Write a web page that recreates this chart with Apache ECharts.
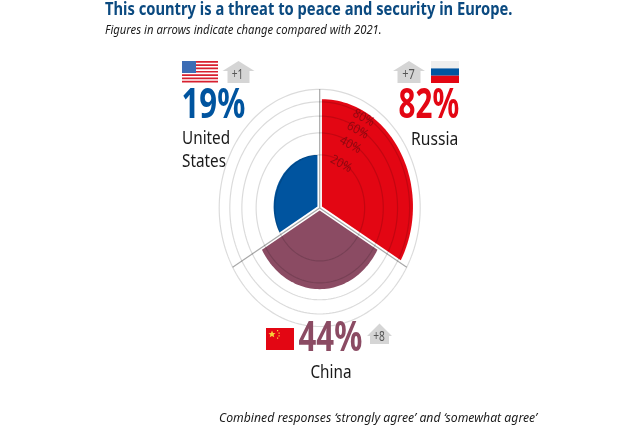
<!DOCTYPE html>
<html><head><meta charset="utf-8">
<style>html,body{margin:0;padding:0;background:#fff}#c{width:640px;height:430px}</style>
<script src="https://cdn.jsdelivr.net/npm/echarts@6/dist/echarts.min.js"></script>
</head><body><div id="c"></div>
<script>
const countries = ['Russia', 'China', 'United States'];
const shares = [82, 44, 19];
const changes = ['+7', '+8', '+1'];
const colors = ['#e30613', '#8b4b63', '#00549f'];
const ringValues = [20, 40, 60, 80, 100];
const ringLabels = [20, 40, 60, 80];
const spokeAngles = [0, 120, 240];
const titleText = 'This country is a threat to peace and security in Europe.';
const subtitleText = 'Figures in arrows indicate change compared with 2021.';
const noteText = 'Combined responses \u2018strongly agree\u2019 and \u2018somewhat agree\u2019';

const FONT = '"Noto Sans", sans-serif';
const rad = d => d * Math.PI / 180;
// Area-proportional radial scale: radius = sqrt(share)
const radius = pct => Math.sqrt(pct / 100);
const polar = (r, deg) => [r * Math.sin(rad(deg)), r * Math.cos(rad(deg))];
const unit = (pct, deg) => polar(radius(pct), deg);

function txt(text, x, y, size, fill, o) {
  o = o || {};
  return {type: 'text', x, y, scaleX: o.sx || 1, scaleY: o.sy || 1, z: 10,
    style: {text, fill, align: o.align || 'left', verticalAlign: 'middle',
      font: (o.style || '') + ' ' + (o.weight || '') + ' ' + size + 'px ' + FONT}};
}
function house(cx, top, shoulder, bottom, halfW, halfBody) {
  return {type: 'polygon', z: 5, shape: {points: [[cx, top], [cx + halfW, shoulder], [cx + halfBody, shoulder], [cx + halfBody, bottom], [cx - halfBody, bottom], [cx - halfBody, shoulder], [cx - halfW, shoulder]]}, style: {fill: '#d5d5d5'}};
}
function rect(x, y, w, h, fill) { return {type: 'rect', z: 5, shape: {x, y, width: w, height: h}, style: {fill}}; }

const flagUS = [rect(182, 61, 36, 22, '#fff')];
for (let i = 0; i < 7; i++) flagUS.push(rect(182, 61 + i * 3.3, 36, 1.7, '#d8202f'));
flagUS.push(rect(182, 61, 14, 12, '#3d6db5'));
const flagRU = [rect(431, 61, 28, 7.4, '#eeeeee'), rect(431, 68.4, 28, 7.3, '#00549f'), rect(431, 75.7, 28, 7.3, '#e30613')];
const flagCN = [rect(266, 328, 28, 22, '#e30613'),
  {type: 'polygon', z: 6, shape: {points: [[272, 330.5], [273, 333], [275.5, 333.2], [273.6, 334.8], [274.3, 337.3], [272, 336], [269.7, 337.3], [270.4, 334.8], [268.5, 333.2], [271, 333]]}, style: {fill: '#f7d23a'}},
  rect(277, 330, 1.2, 1.2, '#f7d23a'), rect(278.5, 332.5, 1.2, 1.2, '#f7d23a'), rect(278.5, 335.2, 1.2, 1.2, '#f7d23a'), rect(277, 337.5, 1.2, 1.2, '#f7d23a')];

const graphics = [
  txt(titleText, 105, 9.5, 16, '#0b4a80', {weight: 'bold', sx: 0.92, sy: 1.1}),
  txt(subtitleText, 105, 30.5, 12, '#1a1a1a', {style: 'italic', sx: 0.94, sy: 1.1}),
  txt(noteText, 219, 418, 12, '#1a1a1a', {style: 'italic', sx: 1.02, sy: 1.1}),
  ...flagUS, ...flagRU, ...flagCN,
  house(238.5, 61, 71, 83, 16, 11), house(409, 61, 71, 83, 16, 11.5), house(379.5, 323.5, 336, 344, 12.5, 9.5),
  txt(changes[2], 237.5, 75, 12, '#555', {align: 'center', sx: .85, sy: 1.15}),
  txt(changes[0], 408.5, 75, 13, '#555', {align: 'center', sx: .85, sy: 1.15}),
  txt(changes[1], 379, 337, 12, '#555', {align: 'center', sx: .85, sy: 1.15}),
  txt(shares[2] + '%', 181.5, 106, 38, colors[2], {weight: 'bold', sx: .82, sy: 1.08}),
  txt(shares[0] + '%', 398.5, 106, 38, colors[0], {weight: 'bold', sx: .78, sy: 1.08}),
  txt(shares[1] + '%', 298.5, 339, 38, colors[1], {weight: 'bold', sx: .82, sy: 1.08}),
  txt('United', 182, 139, 17, '#1a1a1a', {sx: .9, sy: 1.1}),
  txt('States', 182, 162, 17, '#1a1a1a', {sx: .9, sy: 1.1}),
  txt(countries[0], 411, 140, 17, '#1a1a1a', {sx: .92, sy: 1.1}),
  txt(countries[1], 331, 373, 17, '#1a1a1a', {align: 'center', sx: .9, sy: 1.1})
];

const GAP = 2.6;
const chart = echarts.init(document.getElementById('c'), null, {renderer: 'canvas'});
chart.setOption({
  animation: false,
  backgroundColor: '#fff',
  graphic: graphics,
  grid: {left: 219.2, right: 219.8, top: 89.3, bottom: 103.5},
  xAxis: {type: 'value', min: -1, max: 1, show: false},
  yAxis: {type: 'value', min: -1, max: 1, show: false},
  series: [
    {type: 'custom', coordinateSystem: 'cartesian2d', clip: false, z: 1,
      data: spokeAngles.map(a => [a]),
      encode: {x: 0, y: 0},
      renderItem: (p, api) => {
        const a = api.value(0);
        const c = api.coord([0, 0]), e = api.coord(unit(100, a));
        return {type: 'line', shape: {x1: c[0], y1: c[1], x2: e[0], y2: e[1]}, style: {stroke: '#a8a8a8', lineWidth: 1.2}};
      }},
    {type: 'custom', coordinateSystem: 'cartesian2d', clip: false, z: 2,
      data: shares.map((v, i) => [v, i]),
      encode: {x: 0, y: 0},
      renderItem: (p, api) => {
        const v = api.value(0), i = api.value(1);
        const start = i * 120, mid = start + 60;
        const dx = GAP * Math.sin(rad(mid)), dy = -GAP * Math.cos(rad(mid));
        const c = api.coord([0, 0]);
        const pts = [[c[0] + dx, c[1] + dy]];
        for (let d = start; d <= start + 120; d += 2) {
          const q = api.coord(unit(v, d));
          pts.push([q[0] + dx, q[1] + dy]);
        }
        return {type: 'polygon', shape: {points: pts}, style: {fill: colors[i]}};
      }},
    {type: 'custom', coordinateSystem: 'cartesian2d', clip: false, z: 3,
      data: ringValues.map(v => [v]),
      encode: {x: 0, y: 0},
      renderItem: (p, api) => {
        const v = api.value(0), pts = [];
        for (let d = 0; d <= 360; d += 2) pts.push(api.coord(unit(v, d)));
        return {type: 'polyline', shape: {points: pts}, style: {stroke: 'rgba(0,0,0,0.14)', lineWidth: 1.2, fill: 'none'}};
      }},
    {type: 'custom', coordinateSystem: 'cartesian2d', clip: false, z: 4,
      data: ringLabels.map(v => [v]),
      encode: {x: 0, y: 0},
      renderItem: (p, api) => {
        const v = api.value(0), q = api.coord(polar(radius(v) - 0.02, 30));
        return {type: 'text', x: q[0], y: q[1], rotation: -0.5, scaleX: .95, scaleY: 1.05,
          style: {text: v + '%', x: 0, y: 0, align: 'center', verticalAlign: 'middle', fill: 'rgba(90,10,15,0.6)', font: '12px ' + FONT}};
      }}
  ]
});
</script></body></html>
